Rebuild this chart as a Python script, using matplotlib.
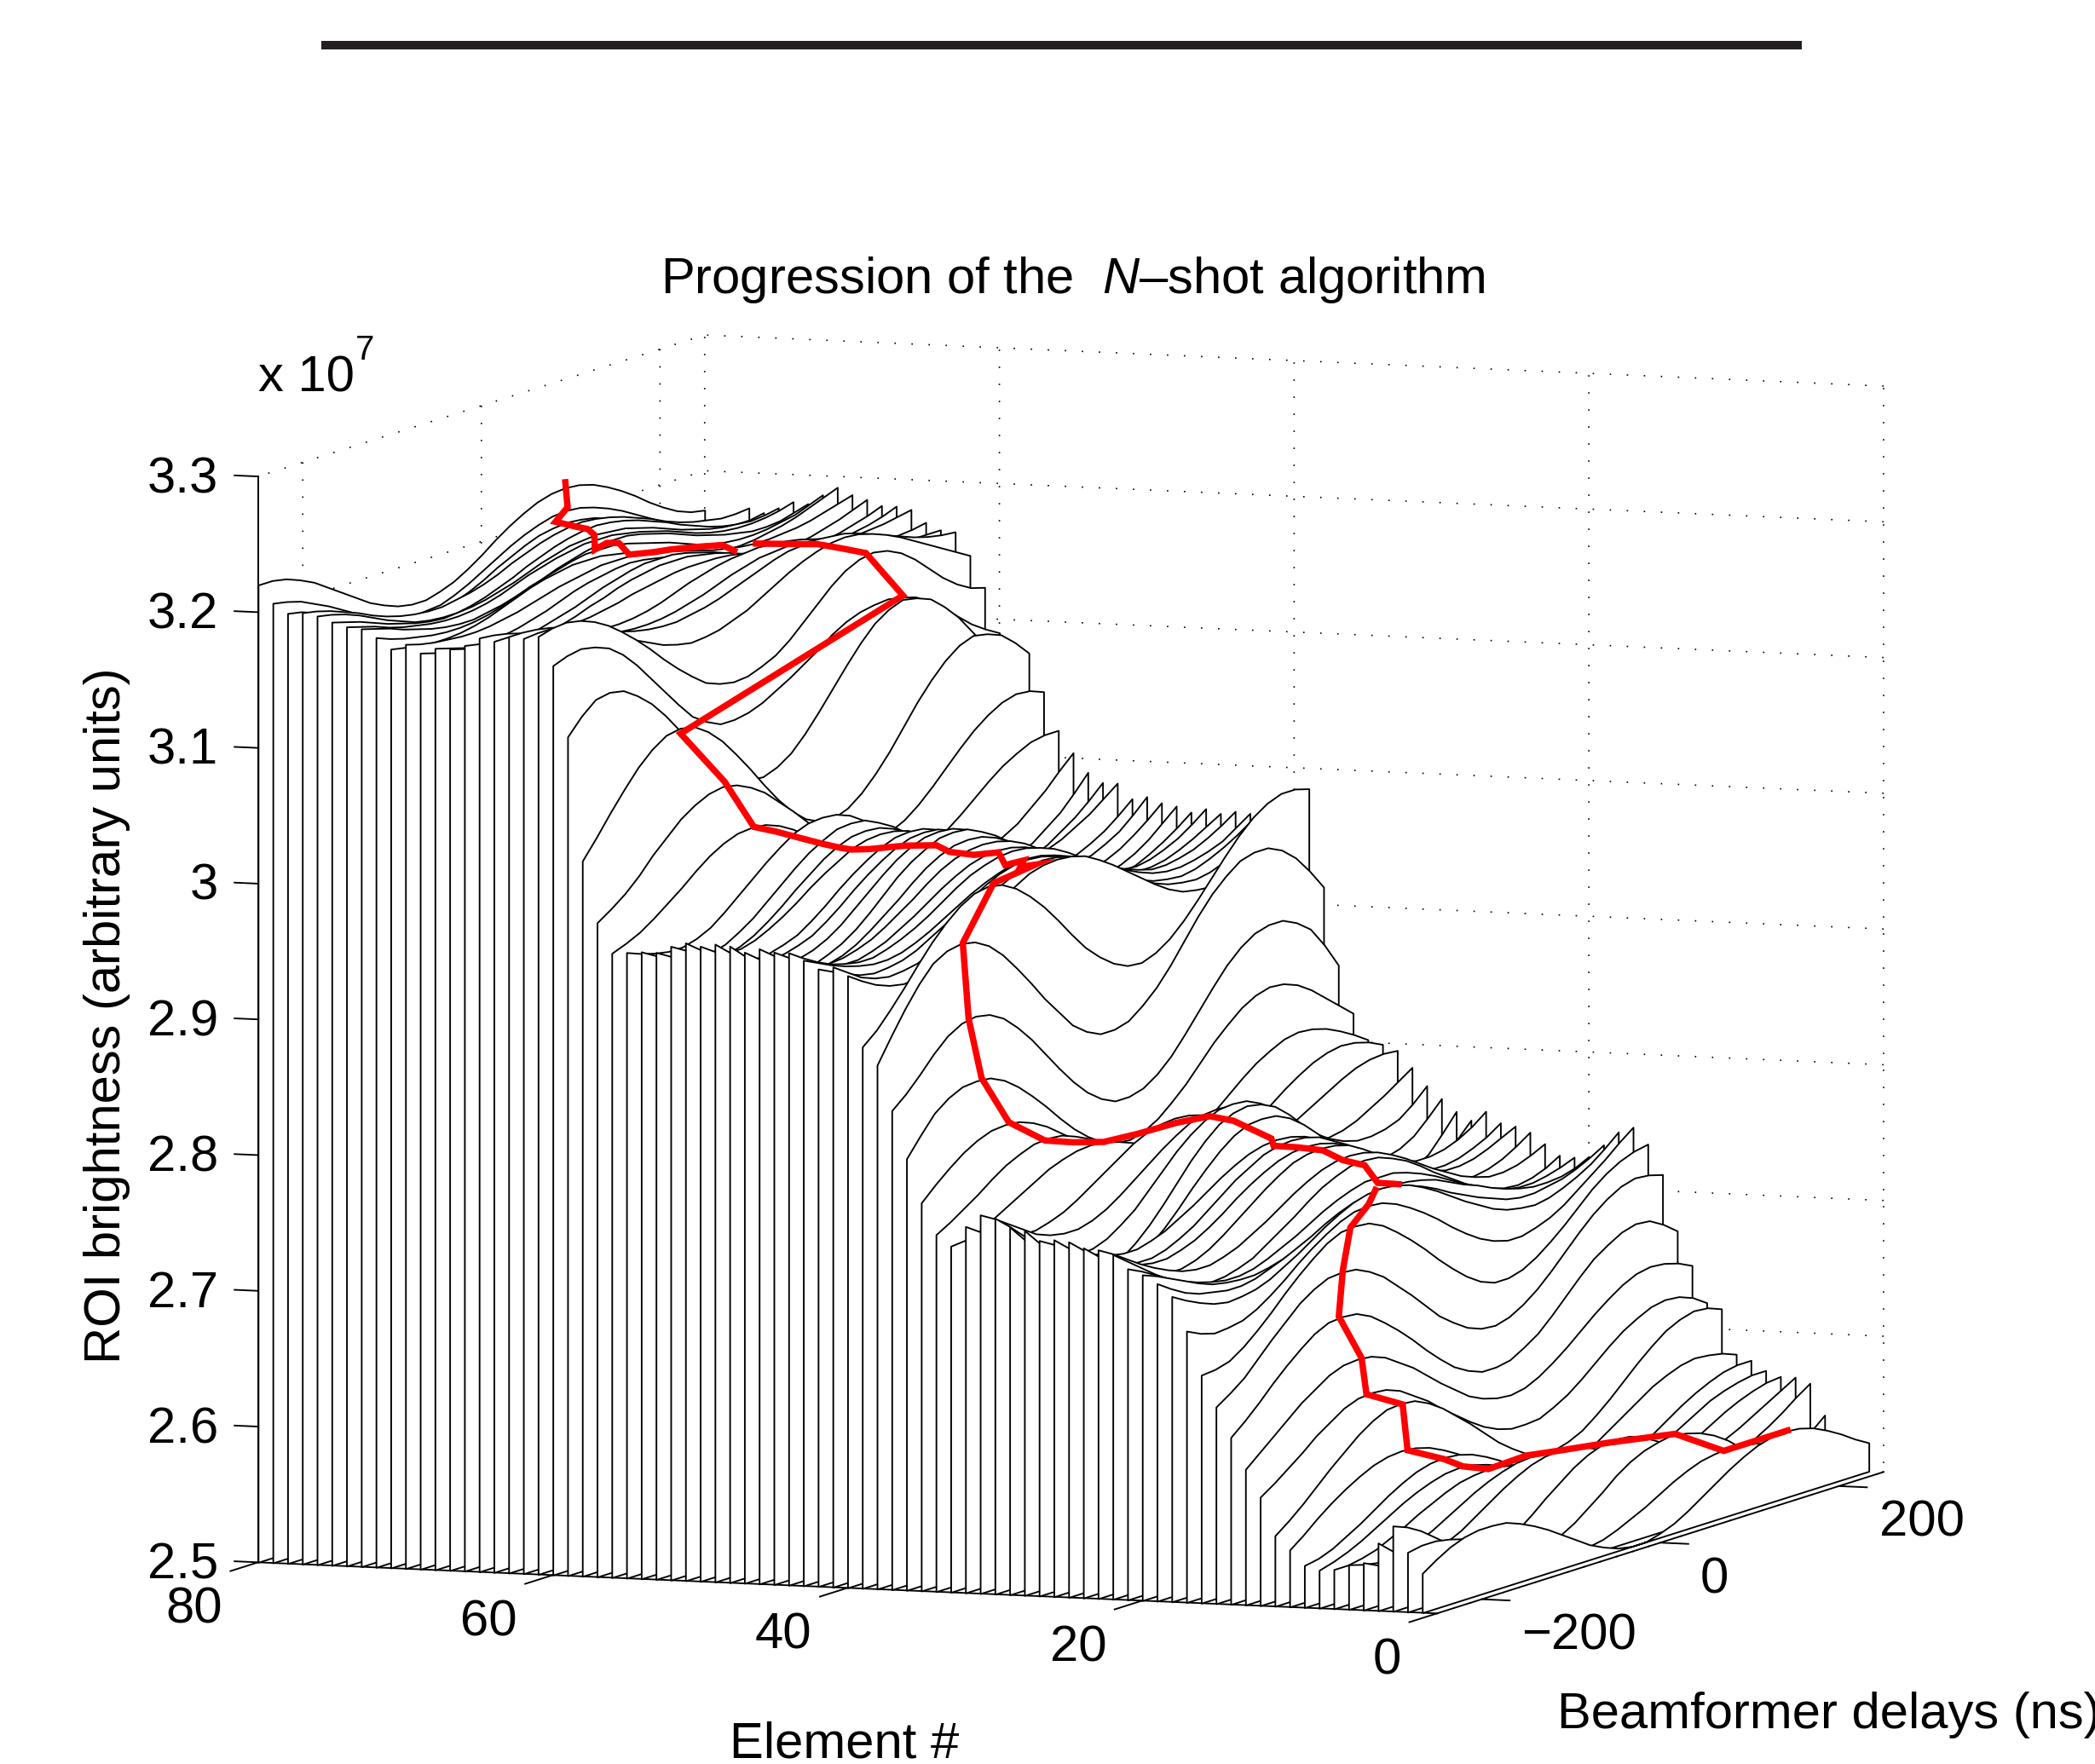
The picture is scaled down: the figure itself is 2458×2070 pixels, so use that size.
#!/usr/bin/env python3
import numpy as np
import matplotlib
matplotlib.use('Agg')
import matplotlib.pyplot as plt
from mpl_toolkits.mplot3d.art3d import Poly3DCollection

plt.rcParams['font.family'] = ['Liberation Sans', 'DejaVu Sans']
plt.rcParams['mathtext.fontset'] = 'custom'
plt.rcParams['mathtext.rm'] = 'Liberation Sans'
plt.rcParams['mathtext.it'] = 'Liberation Sans:italic'
plt.rcParams['grid.linestyle'] = (0, (1, 11))
plt.rcParams['grid.color'] = 'black'
plt.rcParams['grid.linewidth'] = 0.6

FLOOR = 2.5
delays = np.array([-250, -234.375, -218.75, -203.125, -187.5, -171.875, -156.25, -140.625,
                   -125, -109.375, -93.75, -78.125, -62.5, -46.875, -31.25, -15.625, 0,
                   15.625, 31.25, 46.875, 62.5, 78.125, 93.75, 109.375, 125, 140.625,
                   156.25, 171.875, 187.5, 203.125, 218.75, 234.375, 250])

# brightness above the 2.5e7 floor, in units of 1e4, one row per element 1..80
above_floor = [
    [29,36,42,46,48,48,47,43,38,32,25,18,11,6,2,0,0,3,7,13,20,27,34,40,45,48,49,48,45,40,34,27,21],
    [44,46,46,44,41,37,32,26,20,15,11,8,6,6,8,12,17,22,28,34,39,43,45,46,45,43,39,34,28,22,17,12,8],
    [63,59,53,45,37,29,21,15,11,10,10,13,17,23,31,39,48,55,60,63,65,63,60,55,48,39,31,23,17,13,10,10,11],
    [50,41,32,24,18,14,11,12,15,20,27,35,44,52,60,66,70,71,70,66,60,52,44,35,27,21,16,14,14,18,23,31,40],
    [35,30,26,24,24,27,31,36,43,50,57,63,68,71,72,71,68,63,57,50,43,36,31,27,24,24,26,30,35,41,48,56,63],
    [33,30,28,29,31,34,39,45,51,57,62,66,69,70,69,66,62,57,51,45,39,34,31,29,28,30,33,38,43,49,55,61,67],
    [29,29,31,34,39,44,50,55,60,64,66,67,66,64,60,55,50,44,39,34,31,29,29,31,33,37,42,48,54,59,63,66,67],
    [28,31,35,40,46,52,58,63,67,70,71,70,67,63,58,52,46,40,35,31,29,29,31,34,38,44,50,56,62,66,69,71,71],
    [31,33,37,43,49,56,63,69,74,77,78,77,74,69,63,56,49,43,37,33,30,30,32,36,41,47,54,61,67,72,76,78,78],
    [42,50,59,67,74,80,85,88,89,88,85,80,74,67,59,52,46,42,40,40,41,45,50,57,64,71,78,83,87,89,88,86,82],
    [52,60,69,79,89,98,107,114,119,120,119,114,107,98,89,79,69,61,54,51,50,53,58,66,75,85,95,104,112,117,120,119,115],
    [80,87,95,103,112,119,126,130,131,130,126,119,112,103,95,87,80,75,72,72,73,78,84,92,101,110,118,124,129,131,130,126,119],
    [100,109,118,127,136,143,150,154,155,154,150,143,136,127,118,110,102,97,94,93,95,100,107,115,124,133,141,148,153,155,154,151,146],
    [123,132,142,153,163,172,180,185,186,185,180,172,163,153,142,132,123,117,113,113,115,121,128,138,149,160,170,177,183,186,185,179,171],
    [145,152,160,171,182,192,202,209,214,215,214,209,202,192,182,171,160,152,145,141,140,143,149,157,167,178,189,199,207,213,216,215,212],
    [168,169,172,179,188,198,209,219,228,236,241,242,241,236,228,219,209,198,188,179,172,168,168,171,177,185,194,204,214,222,228,232,234],
    [200,195,192,193,195,200,207,215,224,232,239,245,249,250,249,245,239,232,224,215,207,200,195,192,192,195,199,205,213,221,229,238,246],
    [225,219,214,210,208,209,211,215,221,227,234,241,247,252,255,256,255,252,247,241,234,227,221,215,211,209,208,210,214,219,225,233,242],
    [234,227,221,217,215,213,213,215,219,223,228,233,239,244,248,250,251,250,248,244,239,233,228,223,219,215,213,213,215,217,221,226,232],
    [240,236,231,226,221,217,215,214,214,216,219,223,228,232,237,242,245,247,248,247,245,242,237,232,228,223,219,216,214,214,215,218,223],
    [244,239,233,227,222,218,215,213,213,215,219,224,229,235,241,246,250,253,253,253,250,246,241,235,229,224,219,215,213,213,215,218,222],
    [254,246,238,230,223,217,213,211,212,215,219,226,233,240,248,255,260,264,265,264,260,255,248,240,233,226,219,215,212,211,213,217,223],
    [257,251,244,237,231,226,222,220,220,223,227,233,239,246,253,259,264,267,268,267,264,259,253,246,239,233,227,223,220,220,222,226,231],
    [258,249,240,233,226,222,220,220,223,228,235,243,251,259,266,272,275,276,275,272,266,259,251,243,235,228,223,220,220,222,226,232,239],
    [262,253,245,238,233,229,227,227,230,234,240,247,255,262,268,273,276,277,276,273,268,262,255,247,240,234,230,227,227,229,233,238,243],
    [263,254,246,239,233,229,227,227,230,235,241,249,257,265,271,277,280,281,280,277,271,265,257,249,241,235,230,227,227,229,233,238,245],
    [262,256,250,244,239,235,233,233,236,240,246,252,259,266,272,277,280,281,280,277,272,266,259,252,246,240,236,233,233,235,239,245,253],
    [269,257,245,235,226,220,217,218,222,229,238,249,261,272,282,290,295,296,295,290,282,272,261,249,238,229,222,218,217,220,226,235,246],
    [271,259,248,237,227,220,217,218,222,230,240,252,265,278,289,298,303,305,303,298,289,278,265,252,240,230,222,218,217,220,227,239,252],
    [277,268,258,249,240,234,231,232,236,243,251,262,273,284,293,300,305,306,305,300,293,284,273,262,251,243,236,232,231,234,240,250,261],
    [279,273,266,259,252,248,246,246,249,254,261,269,277,285,292,298,301,302,301,298,292,285,277,269,261,254,249,246,246,248,252,260,270],
    [270,263,257,253,251,251,254,258,264,271,278,285,292,297,300,301,300,297,292,285,278,271,264,258,254,251,251,253,257,263,269,276,283],
    [255,256,259,265,271,277,283,289,293,296,297,296,293,289,283,277,271,265,259,255,253,253,255,258,263,269,275,281,287,292,295,296,295],
    [263,269,276,283,291,298,303,307,308,307,303,298,291,283,276,269,262,258,255,254,256,260,266,273,281,289,296,302,306,308,307,304,299],
    [286,296,305,313,319,323,324,323,319,313,305,297,288,280,273,268,265,265,266,271,277,285,294,303,311,317,322,324,323,320,315,309,302],
    [318,332,345,353,358,359,358,353,345,335,324,312,301,292,285,281,280,283,289,298,308,320,332,342,351,357,360,359,355,348,339,330,321],
    [353,362,373,385,395,401,403,401,395,385,373,359,345,332,321,313,308,308,311,318,328,341,355,369,382,392,399,402,402,397,389,374,356],
    [386,404,421,436,448,454,456,454,448,438,425,411,396,383,370,362,357,357,360,368,378,391,406,421,434,444,452,455,455,450,441,428,413],
    [399,408,420,433,447,460,471,480,486,488,486,480,471,460,447,433,420,410,402,397,396,400,407,417,429,442,455,467,477,484,488,488,485],
    [451,444,438,434,432,433,435,440,447,455,463,471,478,484,487,488,487,484,478,471,463,455,447,440,435,433,432,434,438,445,452,460,468],
    [457,450,443,439,437,438,440,444,450,457,465,472,478,483,486,487,486,483,478,472,465,457,450,444,440,438,437,439,443,449,455,462,469],
    [455,450,445,441,439,440,442,446,452,458,465,472,478,483,486,487,486,483,478,472,465,458,452,446,442,440,439,441,445,450,456,463,470],
    [461,456,451,447,444,442,442,444,448,453,459,465,471,476,480,483,484,483,480,476,471,465,459,453,448,444,442,442,444,447,451,458,465],
    [466,459,453,448,445,443,443,446,450,455,461,468,475,481,485,488,489,488,485,481,475,468,461,455,450,446,443,443,445,448,453,459,466],
    [466,459,452,447,443,441,441,444,448,454,460,467,474,480,485,488,489,488,485,480,474,467,460,454,448,444,441,441,443,447,452,458,464],
    [468,460,452,447,443,441,442,445,449,455,462,469,477,484,489,492,493,492,489,484,477,469,462,455,449,445,442,441,443,447,452,459,467],
    [465,457,449,443,438,436,437,440,445,452,460,468,477,485,491,495,496,495,491,485,477,468,460,452,445,440,437,436,438,443,449,456,464],
    [469,459,450,443,438,435,436,440,445,452,461,471,481,489,495,500,501,500,495,489,481,471,461,452,445,440,436,435,438,443,450,459,468],
    [470,461,453,446,441,439,440,443,448,455,464,473,482,490,496,500,501,500,496,490,482,473,464,455,448,443,440,439,441,446,453,461,470],
    [468,461,455,449,444,442,443,446,450,457,465,474,482,489,495,499,500,499,495,489,482,474,465,457,450,446,443,442,444,449,455,464,474],
    [470,462,455,449,444,442,443,446,450,457,465,474,482,489,495,499,500,499,495,489,482,474,465,457,450,446,443,442,444,449,455,463,472],
    [467,461,455,451,449,449,452,457,463,470,478,485,491,497,500,501,500,497,491,485,478,470,463,457,452,449,449,451,455,461,467,475,483],
    [462,456,450,446,443,444,447,452,459,467,476,484,492,498,502,503,502,498,492,484,476,467,459,452,447,444,443,446,450,457,464,473,483],
    [462,456,451,447,444,445,448,454,461,470,479,488,496,502,507,508,507,502,496,488,479,470,461,454,448,445,444,447,451,459,467,478,490],
    [461,457,454,452,452,455,460,468,477,486,495,503,510,514,515,514,510,503,495,486,477,468,460,455,452,452,454,459,465,474,483,494,504],
    [460,464,469,476,484,492,501,509,515,519,520,519,515,509,501,492,484,476,469,464,461,460,462,467,473,481,490,499,507,513,518,520,520],
    [482,489,497,507,519,529,539,546,551,553,551,546,539,529,519,508,497,489,482,478,477,481,486,494,504,515,526,536,544,550,553,552,548],
    [527,541,556,570,583,593,600,602,600,593,583,570,556,541,527,515,506,501,500,504,512,523,536,551,566,579,590,598,602,600,596,587,576],
    [618,630,639,641,639,632,623,611,597,583,569,558,549,544,543,547,554,565,578,592,606,619,630,637,641,639,635,626,615,601,587,573,561],
    [670,674,676,674,670,662,651,638,625,612,600,593,588,588,590,594,600,606,613,620,628,634,638,640,641,639,636,629,621,612,603,596,590],
    [691,694,695,693,689,683,675,666,656,645,635,626,618,614,612,613,617,622,630,640,650,660,668,673,675,673,668,660,650,640,632,626,623],
    [689,690,690,688,684,679,674,668,662,657,652,649,647,648,650,654,658,664,670,676,681,685,688,689,688,685,681,676,670,664,658,652,646],
    [690,690,689,687,684,680,676,672,668,665,663,662,662,664,666,669,673,677,681,685,688,689,690,689,688,685,681,677,673,669,666,664,663],
    [686,686,684,681,678,675,672,669,666,664,663,663,664,666,669,672,676,680,683,686,687,688,687,686,683,680,676,672,669,666,664,664,664],
    [688,687,685,682,678,674,671,669,667,666,666,667,669,672,676,680,683,686,688,689,690,689,688,686,683,680,676,672,669,667,666,667,669],
    [682,680,678,676,674,673,672,672,673,674,676,678,681,683,685,687,688,688,688,687,685,683,681,678,676,674,673,672,672,673,674,676,678],
    [679,676,673,671,669,668,668,669,671,674,678,681,685,688,690,692,692,692,690,688,685,681,678,674,671,669,668,668,669,671,673,676,680],
    [679,676,673,670,668,667,667,668,671,674,677,681,685,688,691,693,693,693,691,688,685,681,677,674,671,668,667,667,668,670,673,676,680],
    [675,672,670,668,667,668,669,671,674,677,681,685,688,690,692,693,692,690,688,685,681,677,674,671,669,668,667,668,670,673,676,680,684],
    [681,678,676,675,674,674,675,677,679,682,685,688,690,692,694,694,694,692,690,688,685,682,679,677,675,674,674,675,676,678,681,684,687],
    [677,675,673,672,672,673,675,678,682,686,690,693,695,697,697,697,695,693,690,686,682,678,675,673,672,672,673,675,677,680,684,688,692],
    [685,681,678,676,674,673,673,674,676,679,683,687,690,693,696,698,698,698,696,693,690,687,683,679,676,674,673,673,674,676,678,682,686],
    [691,688,685,681,678,675,673,672,672,674,676,679,682,686,690,693,696,698,698,698,696,693,690,686,682,679,676,674,672,672,673,676,679],
    [692,689,686,682,679,677,675,674,674,675,677,680,684,688,691,694,696,698,698,698,696,694,691,688,684,680,677,675,674,674,675,677,680],
    [695,692,689,685,681,678,675,673,672,673,674,676,679,682,686,690,693,696,697,698,697,696,693,690,686,682,679,676,674,673,672,673,675],
    [699,697,694,690,685,680,676,672,670,669,669,671,674,678,682,687,691,695,698,700,701,700,698,695,691,687,682,678,674,671,669,669,671],
    [701,699,696,692,688,683,679,676,674,673,673,675,677,680,684,689,693,697,700,702,703,702,700,697,693,689,684,680,677,675,673,673,674],
    [700,698,694,689,683,677,672,668,666,664,664,667,670,674,679,685,690,695,699,701,702,701,699,695,690,685,679,674,670,667,664,664,666],
    [707,705,702,697,692,686,680,675,670,667,665,666,667,671,676,682,688,694,699,703,706,707,706,703,699,694,688,682,676,671,667,665,665],
    [720,720,718,714,709,702,695,688,681,676,672,670,670,673,677,683,690,698,705,711,716,719,720,719,716,711,705,698,690,683,677,673,671],
]

# the path the algorithm took: element, chosen delay and brightness above floor
path_elements = list(range(1, 19)) + list(range(20, 59)) + list(range(60, 81))
path_delays = [159,104,66,9,-32,-51,-77,-89,-94,-118,-107,-131,-120,-129,-108,-83,-46,-22,
               37,30,32,24,18,7,-4,10,-16,-26,-47,-74,-95,-113,-128,-152,-166,-164,-154,-103,
               -40,-40,-20,-24,-15,-26,-37,-35,-53,-56,-60,-64,-60,-63,-70,-82,-91,-107,-140,
               142,117,107,96,80,60,52,55,41,30,28,17,22,25,28,44,53,58,50,80,94]
path_above = [49,45,65,70,72,72,67,71,77,88,119,131,155,187,216,242,251,256,
              247,249,261,266,274,278,281,283,301,306,305,302,300,303,307,325,360,403,456,489,
              489,487,487,484,491,491,495,499,502,501,500,500,500,503,508,515,520,556,598,
              640,676,681,686,689,693,689,692,693,693,691,691,698,697,691,698,700,700,705,709,724]
# stretches of the path that stay in view
path_runs = [(1, 18), (20, 65), (66, 80)]

element_ticks = [0, 20, 40, 60, 80]
element_tick_labels = ['0', '20', '40', '60', '80']
delay_ticks = [-200, 0, 200]
delay_tick_labels = ['\u2212200', '0', '200']
brightness_ticks = [2.5, 2.6, 2.7, 2.8, 2.9, 3.0, 3.1, 3.2, 3.3]
brightness_tick_labels = ['2.5', '2.6', '2.7', '2.8', '2.9', '3', '3.1', '3.2', '3.3']

W, H = 2458, 2070
FONT = 21.5
LW = 0.68
fig = plt.figure(figsize=(W / 200, H / 200), dpi=200)
side = 2398
ax = fig.add_axes([(1224 - side / 2) / W, (H - 1175.6 - side / 2) / H, side / W, side / H],
                  projection='3d', proj_type='ortho', computed_zorder=False)
ax.patch.set_alpha(0)
ax.view_init(elev=6.73, azim=-69.7)
ax.set_box_aspect((1, 1.024, 0.87))
ax.set_xlim(80, 0)
ax.set_ylim(-250, 250)
ax.set_zlim(FLOOR, 3.3)

# gridlines come from the axes, ticks and their labels are placed by hand below
ax.set_xticks(element_ticks)
ax.set_yticks(delay_ticks)
ax.set_zticks(brightness_ticks)
for axis in (ax.xaxis, ax.yaxis, ax.zaxis):
    axis.pane.fill = False
    axis.pane.set_edgecolor('none')
    axis.line.set_linewidth(LW)
    axis._axinfo['tick']['inward_factor'] = 0
    axis._axinfo['tick']['outward_factor'] = 0
    axis.label.set_visible(False)
    axis.offsetText.set_visible(False)
    for tick in axis.get_major_ticks():
        tick.label1.set_visible(False)
        tick.label2.set_visible(False)
ax.zaxis.line.set_color((0, 0, 0, 0))

# paint the curtains from the back to the front
for i in range(len(above_floor) - 1, -1, -1):
    element = i + 1
    z = FLOOR + np.array(above_floor[i]) / 1000
    verts = [(element, delays[0], FLOOR)]
    verts += [(element, d, v) for d, v in zip(delays, z)]
    verts += [(element, delays[-1], FLOOR)]
    poly = Poly3DCollection([verts], facecolor='white', edgecolor='black', linewidth=LW)
    poly.set_zorder(100 - element)
    ax.add_collection3d(poly, autolim=False)

path_elements = np.array(path_elements)
path_z = FLOOR + np.array(path_above) / 1000
path_delays = np.array(path_delays)
for first, last in path_runs:
    keep = (path_elements >= first) & (path_elements <= last)
    ax.plot(path_elements[keep], path_delays[keep], path_z[keep], color='#ff0000',
            linewidth=2.7, zorder=200, solid_joinstyle='miter')

# left axis line, tick marks and tick labels
ax.plot([80, 80], [-250, -250], [FLOOR, 3.3], color='black', linewidth=LW, zorder=150)
for e, label in zip(element_ticks, element_tick_labels):
    ax.plot([e, e], [-250, -281], [FLOOR, FLOOR], color='black', linewidth=LW, zorder=150)
    ax.text(e, -290, 2.4735, label, ha='right', va='center', fontsize=FONT, zorder=300)
for d, label in zip(delay_ticks, delay_tick_labels):
    ax.plot([0, -1.9], [d, d], [FLOOR, FLOOR], color='black', linewidth=LW, zorder=150)
    ax.text(-2.72, d, 2.4739, label, ha='left', va='center', fontsize=FONT, zorder=300)
for v, label in zip(brightness_ticks, brightness_tick_labels):
    ax.plot([80, 81.6], [-250, -250], [v, v], color='black', linewidth=LW, zorder=150)
    ax.text(82.72, -250, v - 0.0035, label, ha='right', va='center', fontsize=FONT, zorder=300)

fig.text(1259 / W, 1 - 328 / H, 'Progression of the  $\\mathit{N}$\u2013shot algorithm',
         ha='center', va='center', fontsize=FONT)
fig.text(303 / W, 1 - 444 / H, 'x 10', ha='left', va='center', fontsize=FONT)
fig.text(417 / W, 1 - 411 / H, '7', ha='left', va='center', fontsize=14.5)
fig.text(126 / W, 1 - 1192 / H, 'ROI brightness (arbitrary units)', rotation=90,
         ha='center', va='center', fontsize=FONT)
fig.text(991 / W, 1 - 2047 / H, 'Element #', ha='center', va='center', fontsize=FONT)
fig.text(1827 / W, 1 - 2012 / H, 'Beamformer delays (ns)', ha='left', va='center', fontsize=FONT)
fig.add_artist(plt.Rectangle((377 / W, 1 - 58 / H), 1737 / W, 10 / H,
                             transform=fig.transFigure, facecolor='#231f20', edgecolor='none'))

plt.savefig('out.png', dpi=200)
